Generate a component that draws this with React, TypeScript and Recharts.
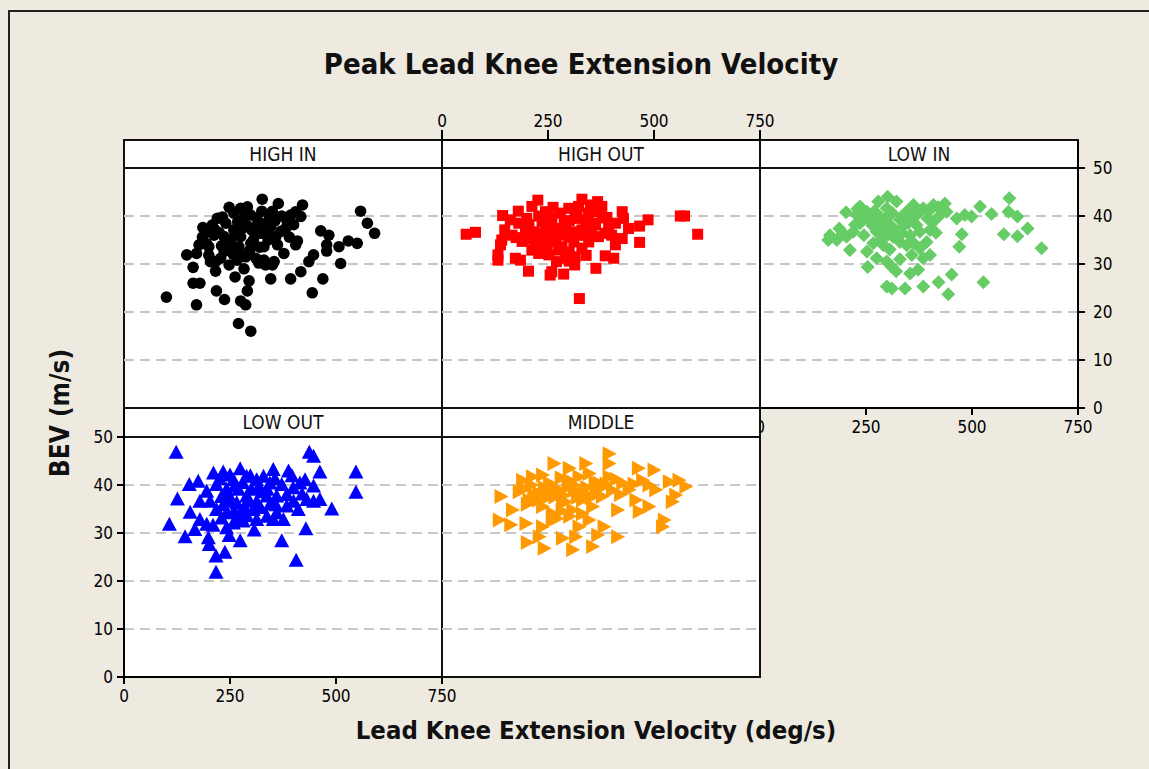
import { ReferenceLine, Scatter, ScatterChart, XAxis, YAxis } from 'recharts';

// values (x = deg/s, y = BEV m/s)
const highIn = [
  [100, 23.1], [171, 21.5], [163, 29.3], [163, 26.0], [179, 26.0], [148, 31.9], [171, 32.2], [177, 34.0],
  [186, 37.6], [200, 33.6], [204, 30.5], [216, 28.5], [218, 24.4], [237, 22.6], [270, 17.6], [299, 16.0],
  [275, 22.3], [287, 21.5], [291, 24.4], [295, 26.5], [248, 41.8], [326, 43.5], [364, 42.6], [421, 42.3],
  [558, 41.0], [574, 38.5], [591, 36.4], [346, 26.9], [393, 26.9], [417, 28.4], [444, 24.0], [469, 26.9],
  [436, 30.5], [447, 31.9], [464, 36.9], [483, 36.0], [478, 34.0], [478, 32.7], [507, 33.6], [511, 30.1],
  [529, 34.8], [550, 34.3], [330, 33.6], [334, 29.8], [354, 30.5], [377, 32.2], [405, 34.0], [409, 34.8],
  [381, 37.4], [393, 40.2], [405, 40.9], [417, 39.9], [385, 38.8], [342, 40.2], [275, 41.6], [291, 41.9],
  [259, 40.6], [220, 39.5], [208, 38.1], [197, 36.7], [212, 36.0], [236, 35.7], [259, 37.1], [279, 37.4],
  [299, 40.2], [314, 39.5], [322, 36.4], [346, 37.8], [358, 35.7], [362, 34.0], [299, 34.3], [271, 33.6],
  [252, 35.0], [236, 32.6], [228, 31.2], [248, 29.8], [267, 30.8], [287, 31.5], [283, 29.0], [311, 31.2],
  [330, 30.8], [350, 29.8], [216, 30.5], [244, 34.0], [279, 39.2], [311, 37.8], [275, 35.7], [189, 37.4],
  [225, 36.5], [240, 38.5], [262, 36.0], [290, 38.0], [305, 35.0], [335, 38.5], [350, 41.0], [325, 41.0],
  [230, 33.8], [258, 32.0], [320, 33.5], [340, 35.0], [262, 27.3], [195, 34.2], [400, 38.2], [370, 36.8],
  [214, 37.2], [232, 39.8], [268, 38.8], [285, 40.6], [302, 37.0], [318, 38.0], [338, 36.8], [356, 39.0],
  [372, 40.0], [250, 33.2], [272, 32.0], [296, 32.8], [318, 30.2], [390, 35.6], [200, 31.8], [185, 35.6],
];

const highOut = [
  [57, 36.2], [79, 36.6], [132, 31.9], [132, 30.8], [138, 34.0], [141, 35.0], [143, 40.1], [161, 39.2],
  [148, 37.1], [173, 31.2], [185, 30.8], [204, 28.5], [255, 27.7], [259, 28.4], [287, 27.9], [313, 29.8],
  [324, 22.8], [363, 29.1], [385, 31.7], [405, 31.2], [409, 34.0], [425, 35.3], [440, 37.4], [425, 40.9],
  [428, 39.5], [466, 37.9], [466, 34.5], [486, 39.2], [562, 40.0], [572, 40.0], [603, 36.2], [226, 43.3],
  [330, 43.5], [367, 43.0], [377, 42.0], [212, 42.0], [244, 40.9], [299, 41.6], [322, 42.0], [350, 42.3],
  [366, 40.9], [389, 39.7], [181, 38.5], [200, 39.5], [216, 36.7], [236, 38.8], [259, 39.5], [279, 40.6],
  [314, 39.5], [338, 39.2], [362, 38.1], [393, 37.4], [409, 38.5], [165, 36.0], [189, 34.7], [212, 32.9],
  [228, 32.2], [252, 31.9], [275, 32.9], [291, 31.2], [314, 31.5], [330, 33.3], [346, 34.6], [369, 35.7],
  [385, 36.4], [236, 35.3], [259, 34.6], [283, 36.0], [307, 36.7], [330, 37.1], [197, 37.1], [236, 33.6],
  [283, 33.6], [311, 34.6], [291, 37.4], [267, 37.4], [244, 36.7], [175, 35.5], [220, 34.5], [250, 38.0],
  [300, 39.0], [340, 36.0], [355, 38.5], [270, 30.5], [300, 32.5], [320, 36.0], [180, 41.0],
  [205, 38.2], [228, 40.0], [262, 41.8], [288, 39.0], [318, 40.6], [345, 40.6], [378, 39.6], [400, 36.0],
  [352, 36.8], [300, 35.6], [268, 35.6], [226, 36.4], [196, 35.2], [248, 32.6], [300, 30.6], [340, 31.8],
];

const lowIn = [
  [165, 36.0], [161, 35.0], [187, 37.4], [203, 40.8], [212, 32.9], [236, 42.0], [254, 29.4], [279, 43.0],
  [301, 44.0], [299, 25.3], [311, 24.9], [321, 28.5], [342, 24.9], [354, 28.0], [373, 28.8], [385, 25.3],
  [421, 26.2], [444, 23.7], [452, 27.8], [470, 33.6], [476, 36.2], [499, 39.9], [519, 42.0], [546, 40.4],
  [527, 26.2], [588, 43.7], [586, 40.9], [607, 39.9], [575, 36.2], [607, 35.8], [631, 37.4], [664, 33.3],
  [252, 32.6], [267, 34.3], [291, 33.9], [299, 30.5], [330, 34.6], [346, 33.9], [358, 31.9], [377, 33.3],
  [401, 31.9], [385, 31.2], [354, 36.0], [377, 36.7], [401, 37.1], [393, 34.6], [369, 38.1], [236, 38.5],
  [259, 39.2], [283, 39.9], [307, 38.1], [330, 39.2], [346, 40.9], [362, 42.3], [385, 41.6], [409, 42.3],
  [436, 42.6], [440, 40.9], [464, 39.5], [483, 40.2], [220, 36.7], [204, 35.7], [181, 35.0], [275, 36.7],
  [314, 35.7], [299, 41.6], [252, 40.9], [425, 40.2], [409, 38.8], [228, 40.2], [322, 43.0], [275, 31.2],
  [245, 36.0], [265, 38.0], [290, 37.5], [320, 37.0], [340, 38.0], [300, 36.0], [230, 41.5], [270, 41.0],
  [360, 39.5], [395, 39.5], [415, 36.5], [330, 31.0], [310, 29.5],
  [248, 39.8], [262, 40.2], [276, 39.0], [294, 39.4], [312, 40.6], [336, 40.0], [350, 38.6], [372, 40.4],
  [398, 41.0], [420, 41.8], [286, 35.2], [306, 33.0], [335, 36.4], [362, 34.4], [224, 38.2], [196, 36.4],
];

const lowOut = [
  [123, 46.7], [107, 31.7], [126, 37.0], [144, 29.1], [154, 40.0], [156, 34.2], [175, 40.7], [167, 30.6],
  [179, 32.7], [195, 31.7], [199, 28.9], [201, 27.5], [217, 25.1], [238, 25.9], [217, 21.7], [211, 42.4],
  [234, 42.6], [274, 43.3], [274, 28.3], [248, 29.4], [307, 30.5], [352, 43.1], [388, 42.8], [372, 28.3],
  [406, 24.2], [429, 30.8], [437, 46.7], [447, 45.9], [462, 42.6], [427, 41.0], [447, 39.7], [462, 36.9],
  [490, 34.9], [547, 42.6], [547, 38.4], [195, 38.6], [218, 40.0], [242, 39.0], [258, 41.0], [289, 41.7],
  [313, 41.0], [329, 41.7], [344, 40.3], [372, 40.0], [399, 39.3], [415, 40.3], [431, 36.9], [411, 34.8],
  [384, 35.5], [360, 34.1], [337, 33.4], [313, 32.7], [281, 32.4], [258, 32.0], [242, 34.1], [218, 34.8],
  [203, 36.5], [179, 36.5], [266, 36.2], [289, 37.6], [313, 36.5], [337, 37.6], [360, 37.6], [384, 37.9],
  [305, 34.8], [274, 34.1], [352, 32.7], [242, 31.0], [376, 32.7], [447, 36.5], [230, 37.5], [250, 36.5],
  [270, 39.0], [300, 39.0], [325, 38.5], [345, 36.0], [260, 34.5], [290, 33.5], [230, 33.0], [210, 31.5],
  [400, 36.5], [420, 38.0],
  [226, 41.2], [250, 42.0], [262, 39.8], [280, 40.4], [298, 41.8], [318, 39.6], [338, 39.0], [356, 41.2],
  [246, 38.0], [284, 35.4], [322, 35.2], [358, 35.8], [266, 33.0], [296, 36.6], [234, 35.8], [396, 41.8],
];

const middle = [
  [138, 37.6], [134, 32.7], [161, 31.7], [165, 34.8], [197, 32.0], [200, 28.0], [240, 26.8], [283, 28.9],
  [307, 26.5], [354, 27.2], [366, 29.6], [381, 31.3], [413, 29.2], [413, 34.8], [393, 46.5], [393, 44.5],
  [263, 44.5], [299, 43.5], [338, 44.5], [462, 43.5], [499, 43.1], [456, 36.9], [464, 34.5], [487, 35.5],
  [487, 40.0], [535, 40.7], [558, 41.0], [574, 39.7], [542, 36.5], [550, 37.9], [519, 31.3], [523, 32.7],
  [189, 41.0], [212, 41.7], [236, 42.1], [181, 38.6], [204, 36.9], [228, 38.3], [252, 40.4], [275, 39.0],
  [299, 41.0], [322, 41.7], [346, 42.4], [369, 40.4], [393, 41.7], [425, 40.4], [440, 39.0], [472, 41.0],
  [503, 39.0], [236, 35.5], [259, 34.1], [283, 36.2], [307, 34.8], [330, 36.9], [354, 35.5], [377, 37.6],
  [401, 38.9], [322, 31.3], [346, 32.7], [236, 31.3], [259, 32.7], [314, 29.2], [252, 37.6], [362, 38.3],
  [228, 29.2], [311, 38.9], [215, 38.0], [240, 39.5], [265, 37.5], [290, 36.5], [310, 40.0], [340, 39.5],
  [360, 40.5], [270, 33.0], [300, 33.5], [330, 34.0], [200, 36.0], [280, 41.5],
  [190, 39.4], [210, 40.0], [226, 36.8], [246, 38.4], [262, 39.6], [286, 37.8], [296, 39.6], [318, 37.4],
  [334, 38.4], [350, 37.4], [370, 39.2], [386, 40.2], [410, 41.2], [452, 40.2], [420, 38.0], [282, 34.6],
];

const xTicks = [0, 250, 500, 750];
const yTicks = [0, 10, 20, 30, 40, 50];
const gridValues = [10, 20, 30, 40];

const FONT = '"DejaVu Sans Condensed", "DejaVu Sans", sans-serif';
const BG = '#EEEAE0';

// panel layout (px)
const COL_X = [124, 442, 760];
const PANEL_W = 318;
const ROWS = [
  { headerTop: 140, bodyTop: 168, bottom: 408 },
  { headerTop: 408, bodyTop: 437, bottom: 677 },
];

type Marker = 'circle' | 'square' | 'diamond' | 'up' | 'right';

const makeShape = (kind: Marker, color: string) => (p: any) => {
  const { cx, cy } = p;
  if (cx == null || cy == null) return <g />;
  if (kind === 'circle') return <circle cx={cx} cy={cy} r={5.8} fill={color} />;
  if (kind === 'square') return <rect x={cx - 5.5} y={cy - 5.5} width={11} height={11} fill={color} />;
  if (kind === 'diamond')
    return <polygon points={`${cx},${cy - 7} ${cx + 7},${cy} ${cx},${cy + 7} ${cx - 7},${cy}`} fill={color} />;
  if (kind === 'up')
    return <polygon points={`${cx},${cy - 8} ${cx + 7.5},${cy + 6} ${cx - 7.5},${cy + 6}`} fill={color} />;
  return <polygon points={`${cx - 6},${cy - 7.5} ${cx + 8},${cy} ${cx - 6},${cy + 7.5}`} fill={color} />;
};

type PanelProps = {
  name: string;
  col: number;
  row: number;
  data: number[][];
  color: string;
  marker: Marker;
  top?: boolean;
  right?: boolean;
  bottom?: boolean;
  left?: boolean;
};

const tickStyle = { fontSize: 17, fill: '#000', fontFamily: FONT };
const axisLineStyle = { stroke: '#000', strokeWidth: 2 };

function Panel({ name, col, row, data, color, marker, top, right, bottom, left }: PanelProps) {
  const r = ROWS[row];
  const x0 = COL_X[col];
  const plotH = r.bottom - r.headerTop;
  const yMax = (50 * plotH) / (r.bottom - r.bodyTop);
  const topH = top ? 40 : 0;
  const bottomH = bottom ? 40 : 0;
  const leftW = left ? 70 : 0;
  const rightW = right ? 70 : 0;
  const points = data.map(([x, y]) => ({ x, y }));

  return (
    <>
      <div
        style={{
          position: 'absolute', left: x0 - 1, top: r.bodyTop - 1, width: PANEL_W + 2, height: r.bottom - r.bodyTop + 2,
          background: '#fff', border: '2px solid #111', boxSizing: 'border-box',
        }}
      />
      <div
        style={{
          position: 'absolute', left: x0 - 1, top: r.headerTop - 1, width: PANEL_W + 2, height: r.bodyTop - r.headerTop + 2,
          background: '#fff', border: '2px solid #111', boxSizing: 'border-box', textAlign: 'center',
          fontSize: 19, lineHeight: `${r.bodyTop - r.headerTop - 2}px`, color: '#111',
        }}
      >
        {name}
      </div>
      <div style={{ position: 'absolute', left: x0 - leftW, top: r.headerTop - topH }}>
        <ScatterChart
          width={PANEL_W + leftW + rightW}
          height={plotH + topH + bottomH}
          margin={{ top: 0, right: 0, bottom: 0, left: 0 }}
        >
          <XAxis
            orientation={top ? 'top' : 'bottom'}
            type="number"
            dataKey="x"
            domain={[0, 750]}
            ticks={xTicks}
            interval={0}
            hide={!(top || bottom)}
            height={40}
            tick={tickStyle}
            tickSize={top ? 10 : 7}
            tickMargin={top ? 3 : 6}
            axisLine={axisLineStyle}
            tickLine={axisLineStyle}
          />
          <YAxis
            orientation={right ? 'right' : 'left'}
            type="number"
            dataKey="y"
            domain={[0, yMax]}
            ticks={yTicks}
            interval={0}
            hide={!(left || right)}
            width={70}
            tick={tickStyle}
            tickSize={7}
            tickMargin={right ? 8 : 4}
            axisLine={axisLineStyle}
            tickLine={axisLineStyle}
          />
          {gridValues.map((g) => (
            <ReferenceLine
              key={g}
              y={g}
              stroke="#c6c6c6"
              strokeWidth={2}
              strokeDasharray="10 6"
              ifOverflow="visible"
            />
          ))}
          <Scatter data={points} shape={makeShape(marker, color)} isAnimationActive={false} />
        </ScatterChart>
      </div>
    </>
  );
}

export default function App() {
  return (
    <div
      style={{
        position: 'absolute', left: 0, top: 0, width: 1149, height: 769, background: BG,
        fontFamily: FONT, overflow: 'hidden', color: '#111',
      }}
    >
      <style>{'.recharts-surface { overflow: visible; }'}</style>
      <div
        style={{
          position: 'absolute', left: 8, top: 10, width: 1160, height: 780,
          borderTop: '2px solid #222', borderLeft: '2px solid #222',
        }}
      />
      <div
        style={{
          position: 'absolute', left: 0, width: 1162, top: 47, textAlign: 'center',
          fontSize: 29, fontWeight: 'bold', whiteSpace: 'nowrap',
        }}
      >
        Peak Lead Knee Extension Velocity
      </div>
      <Panel name="HIGH IN" col={0} row={0} data={highIn} color="#000000" marker="circle" />
      <Panel name="HIGH OUT" col={1} row={0} data={highOut} color="#ff0000" marker="square" top />
      <Panel name="LOW IN" col={2} row={0} data={lowIn} color="#66cc66" marker="diamond" right bottom />
      <Panel name="LOW OUT" col={0} row={1} data={lowOut} color="#0000ff" marker="up" left bottom />
      <Panel name="MIDDLE" col={1} row={1} data={middle} color="#ff9900" marker="right" />
      <div
        style={{
          position: 'absolute', left: 0, width: 1192, top: 715, textAlign: 'center',
          fontSize: 25.5, fontWeight: 'bold', whiteSpace: 'nowrap',
        }}
      >
        Lead Knee Extension Velocity (deg/s)
      </div>
      <div
        style={{
          position: 'absolute', left: 60, top: 413, transform: 'translate(-50%, -50%) rotate(-90deg)',
          fontSize: 26, fontWeight: 'bold', whiteSpace: 'nowrap',
        }}
      >
        BEV (m/s)
      </div>
    </div>
  );
}
